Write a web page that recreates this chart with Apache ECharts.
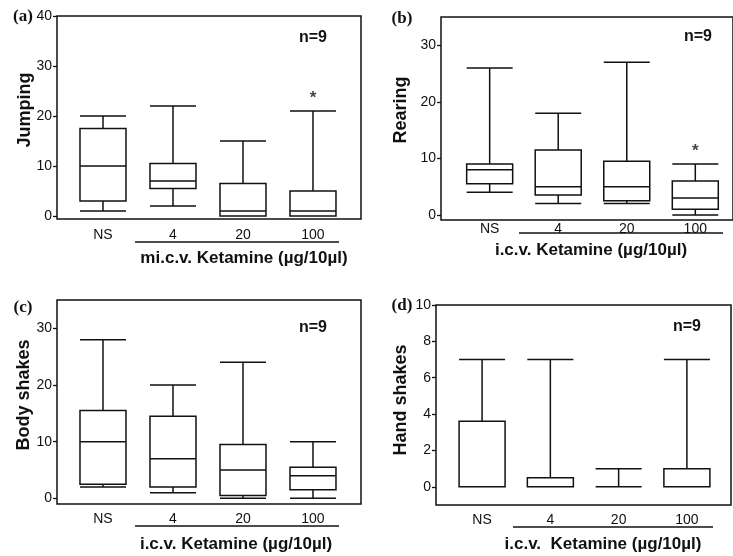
<!DOCTYPE html>
<html>
<head>
<meta charset="utf-8">
<script src="https://cdn.jsdelivr.net/npm/echarts@6/dist/echarts.min.js"></script>
<style>html,body{margin:0;padding:0;background:#fff}#c{width:733px;height:556px}</style>
</head>
<body>
<div id="c"></div>
<script>
// ---- data ----
const categories = ['NS', '4', '20', '100'];
// each row: [min, Q1, median, Q3, max]
const jumping    = [[1, 3, 10, 17.5, 20], [2, 5.5, 7, 10.5, 22], [0, 0, 1, 6.5, 15], [0, 0, 1, 5, 21]];
const rearing    = [[4, 5.5, 8, 9, 26], [2, 3.5, 5, 11.5, 18], [2, 2.5, 5, 9.5, 27], [0, 1, 3, 6, 9]];
const bodyShakes = [[2, 2.5, 10, 15.5, 28], [1, 2, 7, 14.5, 20], [0, 0.5, 5, 9.5, 24], [0, 1.5, 4, 5.5, 10]];
const handShakes = [[0, 0, 0, 3.6, 7], [0, 0, 0, 0.5, 7], [0, 0, 0, 0, 1], [0, 0, 0, 1, 7]];
const yTicksA = [0, 10, 20, 30, 40];
const yTicksB = [0, 10, 20, 30];
const yTicksC = [0, 10, 20, 30];
const yTicksD = [0, 2, 4, 6, 8, 10];
const sigA = ['100'];
const sigB = ['100'];
const sigC = [];
const sigD = [];
const yNames = ['Jumping', 'Rearing', 'Body shakes', 'Hand shakes'];
const panelLetters = ['(a)', '(b)', '(c)', '(d)'];
const xTitles = ['mi.c.v. Ketamine (\u00b5g/10\u00b5l)', 'i.c.v. Ketamine (\u00b5g/10\u00b5l)', 'i.c.v. Ketamine (\u00b5g/10\u00b5l)', 'i.c.v.  Ketamine (\u00b5g/10\u00b5l)'];
const nLabel = 'n=9';

// ---- layout ----
const SANS = '"Liberation Sans", Arial, sans-serif';
const SERIF = '"Liberation Serif", "Times New Roman", serif';
const INK = '#111';
const panels = [
  {data: jumping, ticks: yTicksA, sig: sigA, grid: {left: 57, top: 16, width: 304, height: 203}, x: [-0.657, 3.686], y: [-0.6, 40], lblMargin: 9},
  {data: rearing, ticks: yTicksB, sig: sigB, grid: {left: 441, top: 17, width: 296, height: 203}, x: [-0.71, 3.55], y: [-0.9, 35], lblMargin: 2},
  {data: bodyShakes, ticks: yTicksC, sig: sigC, grid: {left: 57, top: 300, width: 304, height: 204}, x: [-0.657, 3.686], y: [-1, 35], lblMargin: 8},
  {data: handShakes, ticks: yTicksD, sig: sigD, grid: {left: 436, top: 305, width: 295, height: 200}, x: [-0.675, 3.646], y: [-1, 10], lblMargin: 8}
];
const annot = [
  {letter: [23, 17], yname: [25, 110], n: [313, 38], line: [135, 339, 242], title: [244, 258]},
  {letter: [402, 19], yname: [401, 110], n: [698, 37], line: [519, 723, 233], title: [591, 250]},
  {letter: [23, 308], yname: [24, 395], n: [313, 328], line: [135, 339, 526], title: [236, 544]},
  {letter: [402, 306], yname: [401, 400], n: [687, 327], line: [513, 713, 527], title: [603, 544]}
];

const grid = [], xAxis = [], yAxis = [], series = [], graphic = [];
panels.forEach((p, i) => {
  grid.push(Object.assign({show: true, borderColor: INK, borderWidth: 1.5, backgroundColor: 'transparent'}, p.grid));
  xAxis.push({
    type: 'value', gridIndex: i, min: p.x[0], max: p.x[1], position: 'bottom',
    axisLine: {show: false, onZero: false}, axisTick: {show: false}, splitLine: {show: false},
    axisLabel: {customValues: categories.map((c, k) => k), formatter: v => categories[Math.round(v)],
      color: INK, fontFamily: SANS, fontSize: 14, margin: p.lblMargin}
  });
  yAxis.push({
    type: 'value', gridIndex: i, min: p.y[0], max: p.y[1], position: 'left',
    axisLine: {show: false, onZero: false}, splitLine: {show: false},
    axisTick: {show: true, inside: false, length: 4, customValues: p.ticks, lineStyle: {color: INK, width: 1.3}},
    axisLabel: {customValues: p.ticks, color: INK, fontFamily: SANS, fontSize: 14, margin: 5}
  });
  series.push({
    type: 'boxplot', xAxisIndex: i, yAxisIndex: i, boxWidth: [46, 46],
    itemStyle: {color: '#fff', borderColor: INK, borderWidth: 1.5},
    emphasis: {disabled: true}, silent: true,
    data: p.data.map((r, k) => [k].concat(r))
  });
  if (p.sig.length) {
    series.push({
      type: 'scatter', xAxisIndex: i, yAxisIndex: i, symbolSize: 0, silent: true,
      data: p.sig.map(c => { const k = categories.indexOf(c); return [k, p.data[k][4]]; }),
      label: {show: true, position: 'top', distance: 4, formatter: '*', color: INK, fontFamily: SANS, fontSize: 17, fontWeight: 'bold'}
    });
  }
  const a = annot[i];
  graphic.push(
    {type: 'text', x: a.letter[0], y: a.letter[1], style: {text: panelLetters[i], font: 'bold 17px ' + SERIF, fill: INK, textAlign: 'center', textVerticalAlign: 'middle'}},
    {type: 'text', x: a.yname[0], y: a.yname[1], rotation: Math.PI / 2, style: {text: yNames[i], font: 'bold 18px ' + SANS, fill: INK, textAlign: 'center', textVerticalAlign: 'middle'}},
    {type: 'text', x: a.n[0], y: a.n[1], style: {text: nLabel, font: 'bold 16px ' + SANS, fill: INK, textAlign: 'center', textVerticalAlign: 'middle'}},
    {type: 'line', shape: {x1: a.line[0], y1: a.line[2], x2: a.line[1], y2: a.line[2]}, style: {stroke: INK, lineWidth: 1.3}},
    {type: 'text', x: a.title[0], y: a.title[1], style: {text: xTitles[i], font: 'bold 17px ' + SANS, fill: INK, textAlign: 'center', textVerticalAlign: 'middle'}}
  );
});

const chart = echarts.init(document.getElementById('c'), null, {renderer: 'canvas'});
chart.setOption({animation: false, backgroundColor: '#fff', grid, xAxis, yAxis, series, graphic});
</script>
</body>
</html>
